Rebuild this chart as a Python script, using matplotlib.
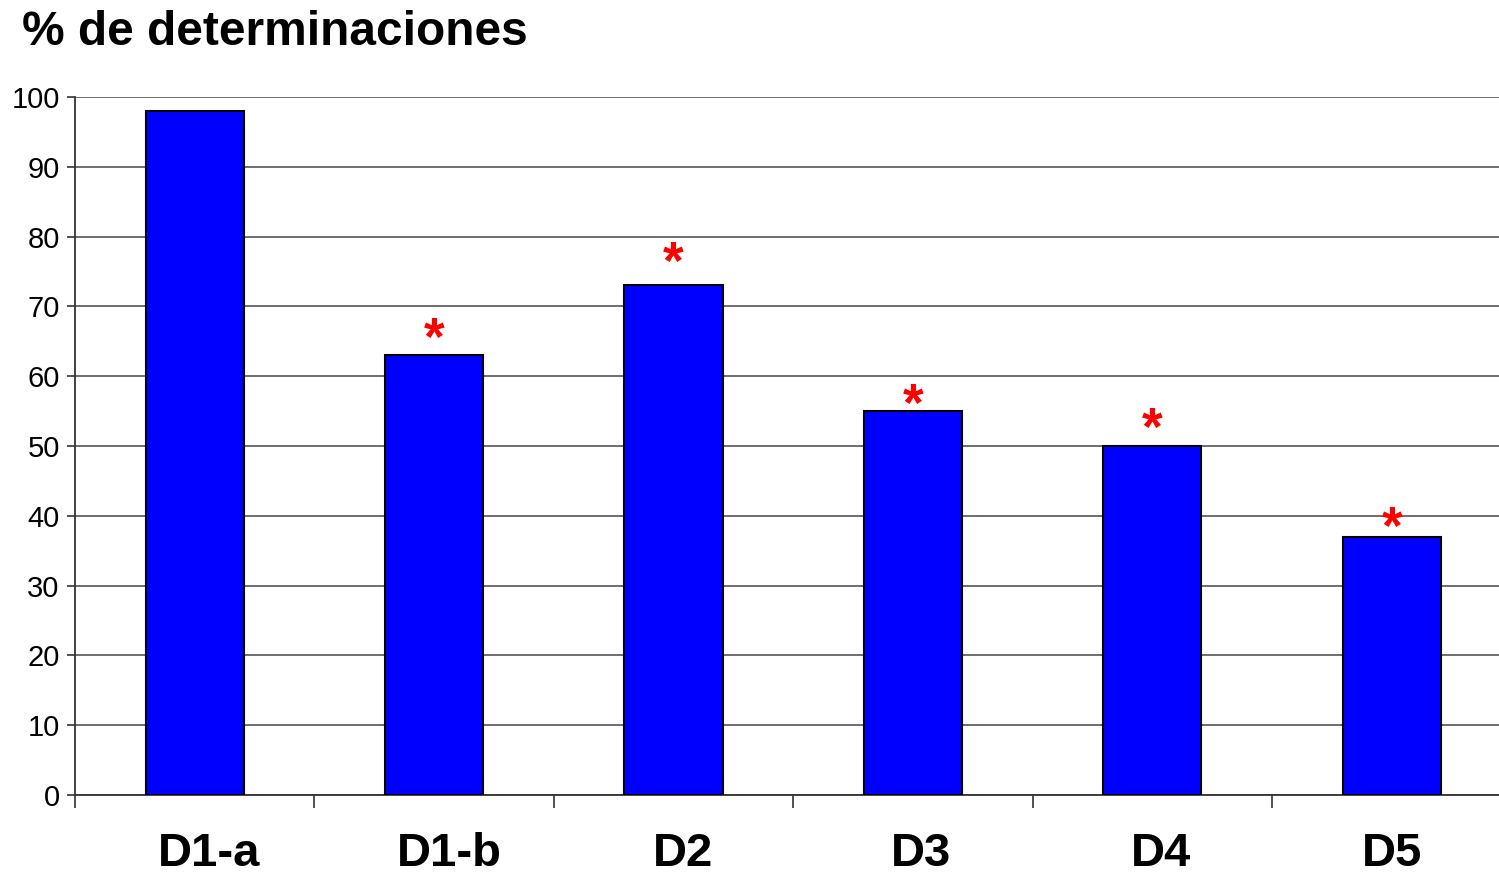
import matplotlib.pyplot as plt
import matplotlib.transforms as mtransforms
import numpy as np

plt.rcParams['font.family'] = ['Liberation Sans', 'DejaVu Sans']

categories = ['D1-a', 'D1-b', 'D2', 'D3', 'D4', 'D5']
values = [98, 63, 73, 55, 50, 37]
# altura (en %) a la que va el asterisco de significación; None = sin marca
star_heights = [None, 66.6, 77.5, 57.2, 53.7, 39.5]
y_ticks = list(range(0, 101, 10))

W, H = 1499, 877
fig = plt.figure(figsize=(W / 100, H / 100), dpi=100)
# el eje sigue un poco más allá del borde derecho de la figura
ax = fig.add_axes([75 / W, 1 - 795 / H, 6 * 239.4 / W, (795 - 97) / H])

x = np.arange(len(categories))
ax.bar(x, values, width=0.41, color='#0000ff', edgecolor='black', linewidth=1.5, zorder=3)

for xi, h in zip(x, star_heights):
    if h is None:
        continue
    ax.annotate('*', xy=(xi, h), xytext=(0, -18), textcoords='offset points',
                ha='center', va='baseline', fontsize=38, fontweight='bold',
                color='#ff0000', zorder=4)

ax.set_xlim(-0.5, len(categories) - 0.5)
ax.set_ylim(0, 100)
ax.set_yticks(y_ticks)
ax.yaxis.grid(True, color='#555555', linewidth=1.2, zorder=0)

# marcas en los límites de cada categoría, etiquetas en el centro
ax.set_xticks(np.arange(len(categories) + 1) - 0.5)
ax.set_xticklabels([])
ax.set_xticks(x, minor=True)
ax.set_xticklabels(categories, minor=True, fontsize=34, fontweight='bold')
ax.tick_params(axis='x', which='major', direction='out', length=9, width=1.2, color='#333333')
ax.tick_params(axis='x', which='minor', length=0, pad=27)
ax.tick_params(axis='y', direction='out', length=6, width=1.2, color='#333333',
               labelsize=21, pad=5)

# las etiquetas de categoría van algo corridas a la derecha (px)
label_shift = [14, 15, 10, 8, 9, 0]
for lbl, dx in zip(ax.get_xticklabels(minor=True), label_shift):
    lbl.set_transform(lbl.get_transform() +
                      mtransforms.ScaledTranslation(dx / 100, 0, fig.dpi_scale_trans))

for side in ['top', 'right']:
    ax.spines[side].set_visible(False)
for side in ['left', 'bottom']:
    ax.spines[side].set_color('#333333')
    ax.spines[side].set_linewidth(1.3)

fig.text(22 / W, 1 - 10 / H, '% de determinaciones', ha='left', va='top',
         fontsize=34.5, fontweight='bold')

fig.savefig('out.png', dpi=100)
